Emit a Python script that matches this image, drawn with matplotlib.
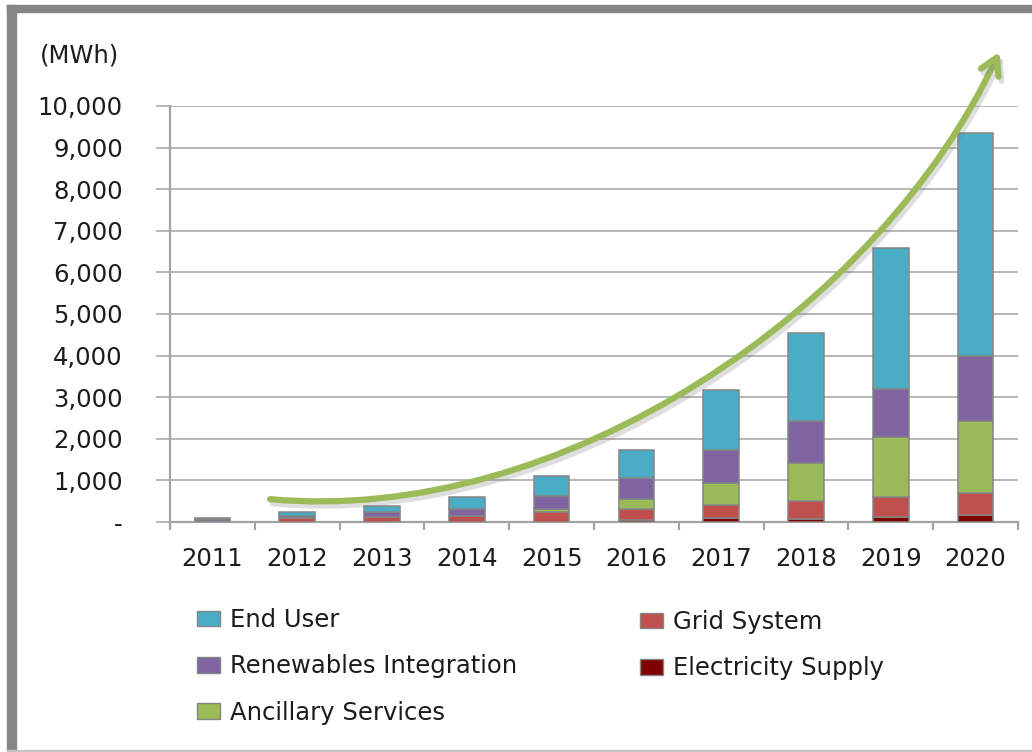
import matplotlib.pyplot as plt
import matplotlib.patheffects as pe
from matplotlib.patches import FancyArrowPatch, Rectangle, Patch
from matplotlib.path import Path
import numpy as np

years = ['2011', '2012', '2013', '2014', '2015', '2016', '2017', '2018', '2019', '2020']

# MWh per segment, stacked bottom to top
electricity_supply = [0, 0, 0, 0, 10, 50, 90, 80, 130, 170]
grid_system = [20, 100, 130, 150, 230, 255, 330, 430, 480, 535]
ancillary_services = [0, 0, 0, 0, 80, 250, 515, 900, 1440, 1725]
renewables_integration = [60, 50, 120, 160, 310, 505, 785, 1025, 1140, 1570]
end_user = [20, 100, 140, 300, 480, 680, 1460, 2100, 3400, 5350]

y_ticks = [0, 1000, 2000, 3000, 4000, 5000, 6000, 7000, 8000, 9000, 10000]
y_labels = ['-', '1,000', '2,000', '3,000', '4,000', '5,000',
            '6,000', '7,000', '8,000', '9,000', '10,000']

# growth arrow, bezier control points in (category index, MWh)
trend_curve = [(0.68, 550), (4.10, -100), (7.88, 5100), (9.28, 11300)]

colors = {
    'End User': '#4BACC6',
    'Grid System': '#C0504D',
    'Renewables Integration': '#8064A2',
    'Electricity Supply': '#7F0000',
    'Ancillary Services': '#9BBB59',
}
text_color = '#1c1c1c'
grid_color = '#a3a3a3'
edge_color = '#858585'
fs = 17.5

plt.rcParams['font.family'] = ['DejaVu Sans']

fig = plt.figure(figsize=(10.32, 7.52), dpi=100)
ax = fig.add_axes([170 / 1032, 1 - 522 / 752, 848 / 1032, 416 / 752])

x = np.arange(len(years))
bottom = np.zeros(len(years))
stack = [
    ('Electricity Supply', electricity_supply),
    ('Grid System', grid_system),
    ('Ancillary Services', ancillary_services),
    ('Renewables Integration', renewables_integration),
    ('End User', end_user),
]
for name, vals in stack:
    vals = np.array(vals, dtype=float)
    ax.bar(x, vals, 0.42, bottom=bottom, color=colors[name],
           edgecolor=edge_color, linewidth=1.1, zorder=3)
    bottom += vals

ax.set_xlim(-0.5, len(years) - 0.5)
ax.set_ylim(0, 10000)
ax.set_yticks(y_ticks)
ax.set_yticklabels(y_labels)
ax.set_xticks(x)
ax.set_xticklabels(years)
ax.set_xticks(np.arange(len(years) + 1) - 0.5, minor=True)

ax.tick_params(axis='y', which='major', length=10, width=1.1, color=grid_color,
               pad=24, labelsize=fs, labelcolor=text_color)
ax.tick_params(axis='x', which='major', length=0, pad=18,
               labelsize=fs, labelcolor=text_color)
ax.tick_params(axis='x', which='minor', length=6, width=1.6, color=grid_color)

ax.yaxis.grid(True, color=grid_color, linewidth=1.1, zorder=0)
ax.set_axisbelow(True)
for side in ['top', 'right']:
    ax.spines[side].set_visible(False)
for side in ['left', 'bottom']:
    ax.spines[side].set_color(grid_color)
    ax.spines[side].set_linewidth(1.6)

fig.text(40 / 1032, 1 - 55 / 752, '(MWh)', fontsize=fs, color=text_color,
         ha='left', va='center')

# curved growth arrow over the bars
arrow_path = Path(trend_curve, [Path.MOVETO, Path.CURVE4, Path.CURVE4, Path.CURVE4])
arrow = FancyArrowPatch(path=arrow_path, transform=ax.transData,
                        arrowstyle='->,head_length=12,head_width=7',
                        color='#9BBB59', linewidth=4.5, capstyle='round',
                        joinstyle='round', clip_on=False, zorder=5)
arrow.set_path_effects([
    pe.SimpleLineShadow(offset=(2, -3), shadow_color='#7f7f7f', alpha=0.25),
    pe.Normal(),
])
ax.add_patch(arrow)

# legend, two columns
def handles(names):
    return [Patch(facecolor=colors[n], edgecolor=edge_color, linewidth=1, label=n)
            for n in names]

leg_kw = dict(frameon=False, fontsize=fs, handlelength=0.95, handleheight=0.62,
              handletextpad=0.4, labelspacing=0.92, borderpad=0,
              borderaxespad=0, loc='upper left', labelcolor=text_color)
fig.legend(handles=handles(['End User', 'Renewables Integration', 'Ancillary Services']),
           bbox_to_anchor=(197 / 1032, 1 - 608 / 752), **leg_kw)
fig.legend(handles=handles(['Grid System', 'Electricity Supply']),
           bbox_to_anchor=(640 / 1032, 1 - 610 / 752), **leg_kw)

# outer frame: heavy top and left edges
fig.patches.append(Rectangle((7 / 1032, 1 - 12 / 752), 1, 7 / 752,
                             transform=fig.transFigure, color='#858585', zorder=0))
fig.patches.append(Rectangle((7 / 1032, 0), 9 / 1032, 1 - 5 / 752,
                             transform=fig.transFigure, color='#858585', zorder=0))
fig.patches.append(Rectangle((7 / 1032, 0), 1, 2 / 752,
                             transform=fig.transFigure, color='#c4c4c4', zorder=0))

fig.savefig('out.png', dpi=100)
